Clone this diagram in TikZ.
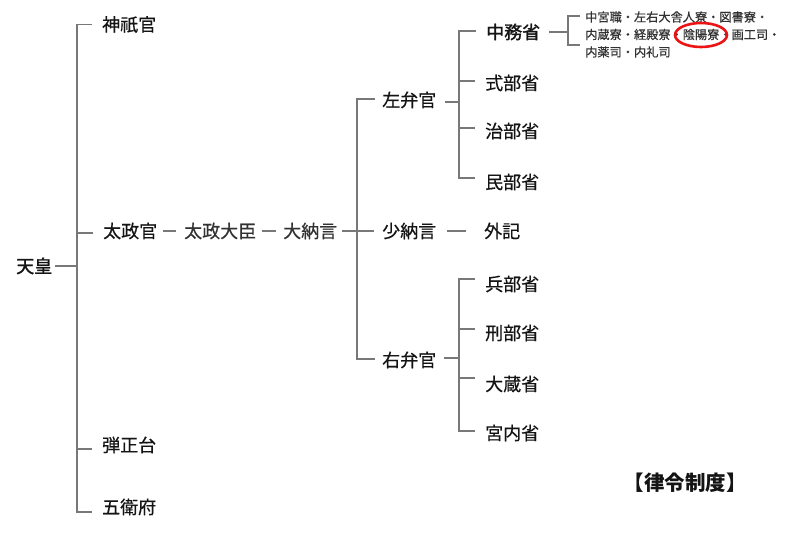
\documentclass[tikz,border=0pt]{standalone}
\usepackage{fontspec}
\newfontfamily\jp{Noto Sans CJK JP}[FakeBold=0.5]
\newfontfamily\jpb{Noto Sans CJK JP}[FakeBold=1.6]
\newfontfamily\jpt{Noto Sans CJK JP}
\usetikzlibrary{calc}
\definecolor{ln}{RGB}{120,120,120}
\definecolor{txt}{RGB}{20,20,20}
\definecolor{txtb}{RGB}{50,50,50}
\definecolor{hlred}{RGB}{235,20,20}
\begin{document}
\begin{tikzpicture}[x=1pt,y=-1pt,
  lbl/.style={font=\jp\fontsize{18}{20}\selectfont, inner sep=0pt, anchor=west,
    text height=14.9pt, text depth=1.3pt, text=txt},
  lblb/.style={lbl, font=\jpb\fontsize{18}{20}\selectfont},
  sm/.style={font=\jp\fontsize{12.2}{14}\selectfont, inner sep=0pt, anchor=west,
    text height=10pt, text depth=0.85pt, text=txtb},
  ttl/.style={font=\jpt\bfseries\fontsize{20.5}{22}\selectfont, inner sep=0pt,
    text height=17pt, text depth=1.45pt, text=txt},
  conn/.style={draw=ln, line width=1.6pt}]
\path[use as bounding box] (0,0) rectangle (800,534);
\fill[white] (0,0) rectangle (800,534);

% nodes
\node[lblb] (tenno) at (16,266) {天皇};
\node[lbl] (shingi) at (102,24.5) {神祇官};
\node[lbl] (dajokan) at (103,231) {太政官};
\node[lbl] (danjo) at (102,445) {弾正台};
\node[lbl] (goei) at (102,507) {五衛府};
\node[lbl, text=txtb] (daijin) at (184,231) {太政大臣};
\node[lbl, text=txtb] (dainagon) at (283,231) {大納言};
\node[lbl] (shonagon) at (382,231) {少納言};
\node[lbl] (geki) at (484,231) {外記};
\node[lbl] (saben) at (382,100) {左弁官};
\node[lbl] (uben) at (382,360) {右弁官};
\node[lblb] (naka) at (486,32) {中務省};
\node[lbl] (shiki) at (485,83) {式部省};
\node[lbl] (ji) at (485,131) {治部省};
\node[lbl] (min) at (485,182) {民部省};
\node[lbl] (hyo) at (485,284) {兵部省};
\node[lbl] (gyo) at (485,333) {刑部省};
\node[lbl] (okura) at (485,384) {大蔵省};
\node[lbl] (kunai) at (485,433) {宮内省};
\node[sm] (s1) at (585,17) {中宮職・左右大舎人寮・図書寮・};
\node[sm] (s2) at (585,34.5) {内蔵寮・経殿寮・陰陽寮・画工司・};
\node[sm] (s3) at (585,52) {内薬司・内礼司};
\node[ttl] (title) at (685,483) {【律令制度】};

% junction columns
\coordinate (J1) at (77,0);
\coordinate (J2) at (357,0);
\coordinate (J3) at (459,0);
\coordinate (J4) at (568,0);
\coordinate (B1) at (580,16);
\coordinate (B2) at (580,45);

% 天皇 level
\draw[conn] ($(tenno.east)+(3,0)$) -- (tenno.east -| J1);
\draw[conn] ($(shingi.west)+(-10,0)$) -| ($(goei.west -| J1)+(0,5)$) -- ($(goei.west)+(-10,5)$);
\draw[conn] ($(dajokan.west)+(-10,2)$) -- ($(dajokan.west -| J1)+(0,2)$);
\draw[conn] ($(danjo.west)+(-10,4)$) -- ($(danjo.west -| J1)+(0,4)$);

% chain
\draw[conn] ($(dajokan.east)+(6,0)$) -- ($(daijin.west)+(-8,0)$);
\draw[conn] ($(daijin.east)+(6,0)$) -- ($(dainagon.west)+(-7,0)$);
\draw[conn] ($(dainagon.east)+(5,0)$) -- ($(shonagon.west)+(-8,0)$);
\draw[conn] ($(shonagon.east)+(11,0)$) -- ($(geki.west)+(-18,0)$);

% 弁官 bracket
\draw[conn] ($(saben.west)+(-7,-1)$) -| ($(uben.west -| J2)+(0,-1)$) -- ($(uben.west)+(-7,-1)$);

% 左弁官 group
\draw[conn] ($(saben.east)+(9,2)$) -- ($(saben.east -| J3)+(0,2)$);
\draw[conn] ($(naka.west)+(-10,-1)$) -| ($(min.west -| J3)+(0,-4)$) -- ($(min.west)+(-10,-4)$);
\draw[conn] ($(shiki.west)+(-10,-2)$) -- ($(shiki.west -| J3)+(0,-2)$);
\draw[conn] ($(ji.west)+(-10,-3)$) -- ($(ji.west -| J3)+(0,-3)$);

% 右弁官 group
\draw[conn] ($(uben.east)+(8,-2)$) -- ($(uben.east -| J3)+(0,-2)$);
\draw[conn] ($(hyo.west)+(-10,-5)$) -| ($(kunai.west -| J3)+(0,-2)$) -- ($(kunai.west)+(-10,-2)$);
\draw[conn] ($(gyo.west)+(-10,-4)$) -- ($(gyo.west -| J3)+(0,-4)$);
\draw[conn] ($(okura.west)+(-10,-6)$) -- ($(okura.west -| J3)+(0,-6)$);

% 中務省 bracket
\draw[conn] ($(naka.east)+(9,0)$) -- (naka.east -| J4);
\draw[conn] (B1) -| (J4 |- B2) -- (B2);

% highlight
\draw[draw=hlred, line width=2.6pt] (701,35) ellipse [x radius=26, y radius=12];
\end{tikzpicture}
\end{document}
